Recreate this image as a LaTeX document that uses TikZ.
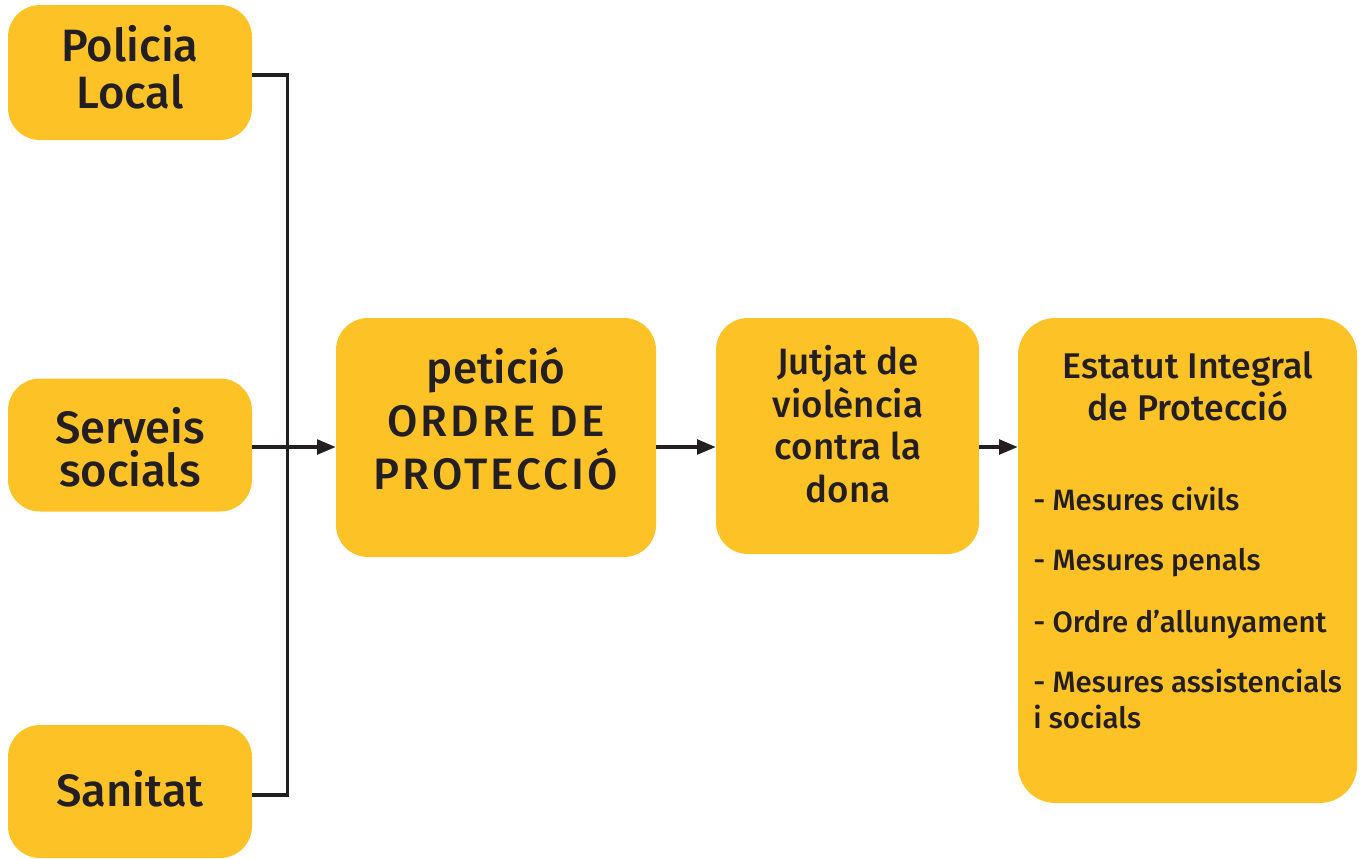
\documentclass[tikz,border=0pt]{standalone}
\usepackage{fontspec}
\setmainfont{Fira Sans}[UprightFont={* Medium}]
\usetikzlibrary{arrows.meta}
\definecolor{boxy}{HTML}{FDC226}
\definecolor{ink}{HTML}{231F20}
\tikzset{
  box/.style={fill=boxy, draw=none, rounded corners=24pt, inner sep=0pt},
  txt/.style={text=ink, align=center, inner sep=0pt},
  conn/.style={draw=ink, line width=2.5pt},
  arr/.style={conn, -{Triangle[length=14pt,width=11pt]}},
}
\begin{document}
\begin{tikzpicture}[x=0.75pt,y=-0.75pt]
\useasboundingbox (0,0) rectangle (1366,858);
% boxes
\node[box, minimum width=183pt, minimum height=101.25pt] (pl) at (130,72.5) {};
\node[box, minimum width=183pt, minimum height=99.75pt] (ss) at (130,445) {};
\node[box, minimum width=183pt, minimum height=99.75pt] (sa) at (130,791.5) {};
\node[box, minimum width=240pt, minimum height=179.25pt] (pe) at (496,437.5) {};
\node[box, minimum width=197.25pt, minimum height=177pt] (ju) at (847.5,436) {};
\node[box, minimum width=254.25pt, minimum height=363.75pt, rounded corners=28pt] (es) at (1187.5,560.5) {};
% texts
\node[txt, font=\fontsize{34}{35}\selectfont] (tpl) at (130,67.5) {Policia\\Local};
\node[txt, font=\fontsize{34}{32}\selectfont] (tss) at (130,447) {Serveis\\socials};
\node[txt, font=\fontsize{34}{35}\selectfont] (tsa) at (130,789) {Sanitat};
\node[txt, font=\fontsize{33}{39.75}\selectfont] (tpe) at (496,419) {petició\\{\addfontfeatures{LetterSpace=7}ORDRE DE}\\{\addfontfeatures{LetterSpace=7}PROTECCIÓ}};
\node[txt, font=\fontsize{27.5}{32}\selectfont] (tju) at (848,424) {Jutjat de\\violència\\contra la\\dona};
\node[txt, font=\fontsize{26.8}{31.5}\selectfont] (tes) at (1188,386) {Estatut Integral\\de Protecció};
\begin{scope}[every node/.style={text=ink, inner sep=0pt, anchor=base west, font=\fontsize{22.1}{26}\selectfont}]
\node (l1) at (1033,510) {- Mesures civils};
\node (l2) at (1033,570) {- Mesures penals};
\node (l3) at (1033,632) {- Ordre d’allunyament};
\node (l4) at (1033,692) {- Mesures assistencials};
\node (l5) at (1033,728) {i socials};
\end{scope}
% connectors
\draw[conn] (pl.east |- 0,75) -- ++(35,0) |- (sa.east |- 0,795);
\draw[arr] (ss.east |- 0,447) -- (pe.west |- 0,447);
\draw[arr] (pe.east |- 0,447) -- (ju.west |- 0,447);
\draw[arr] (ju.east |- 0,447) -- (es.west |- 0,447);
\end{tikzpicture}
\end{document}
